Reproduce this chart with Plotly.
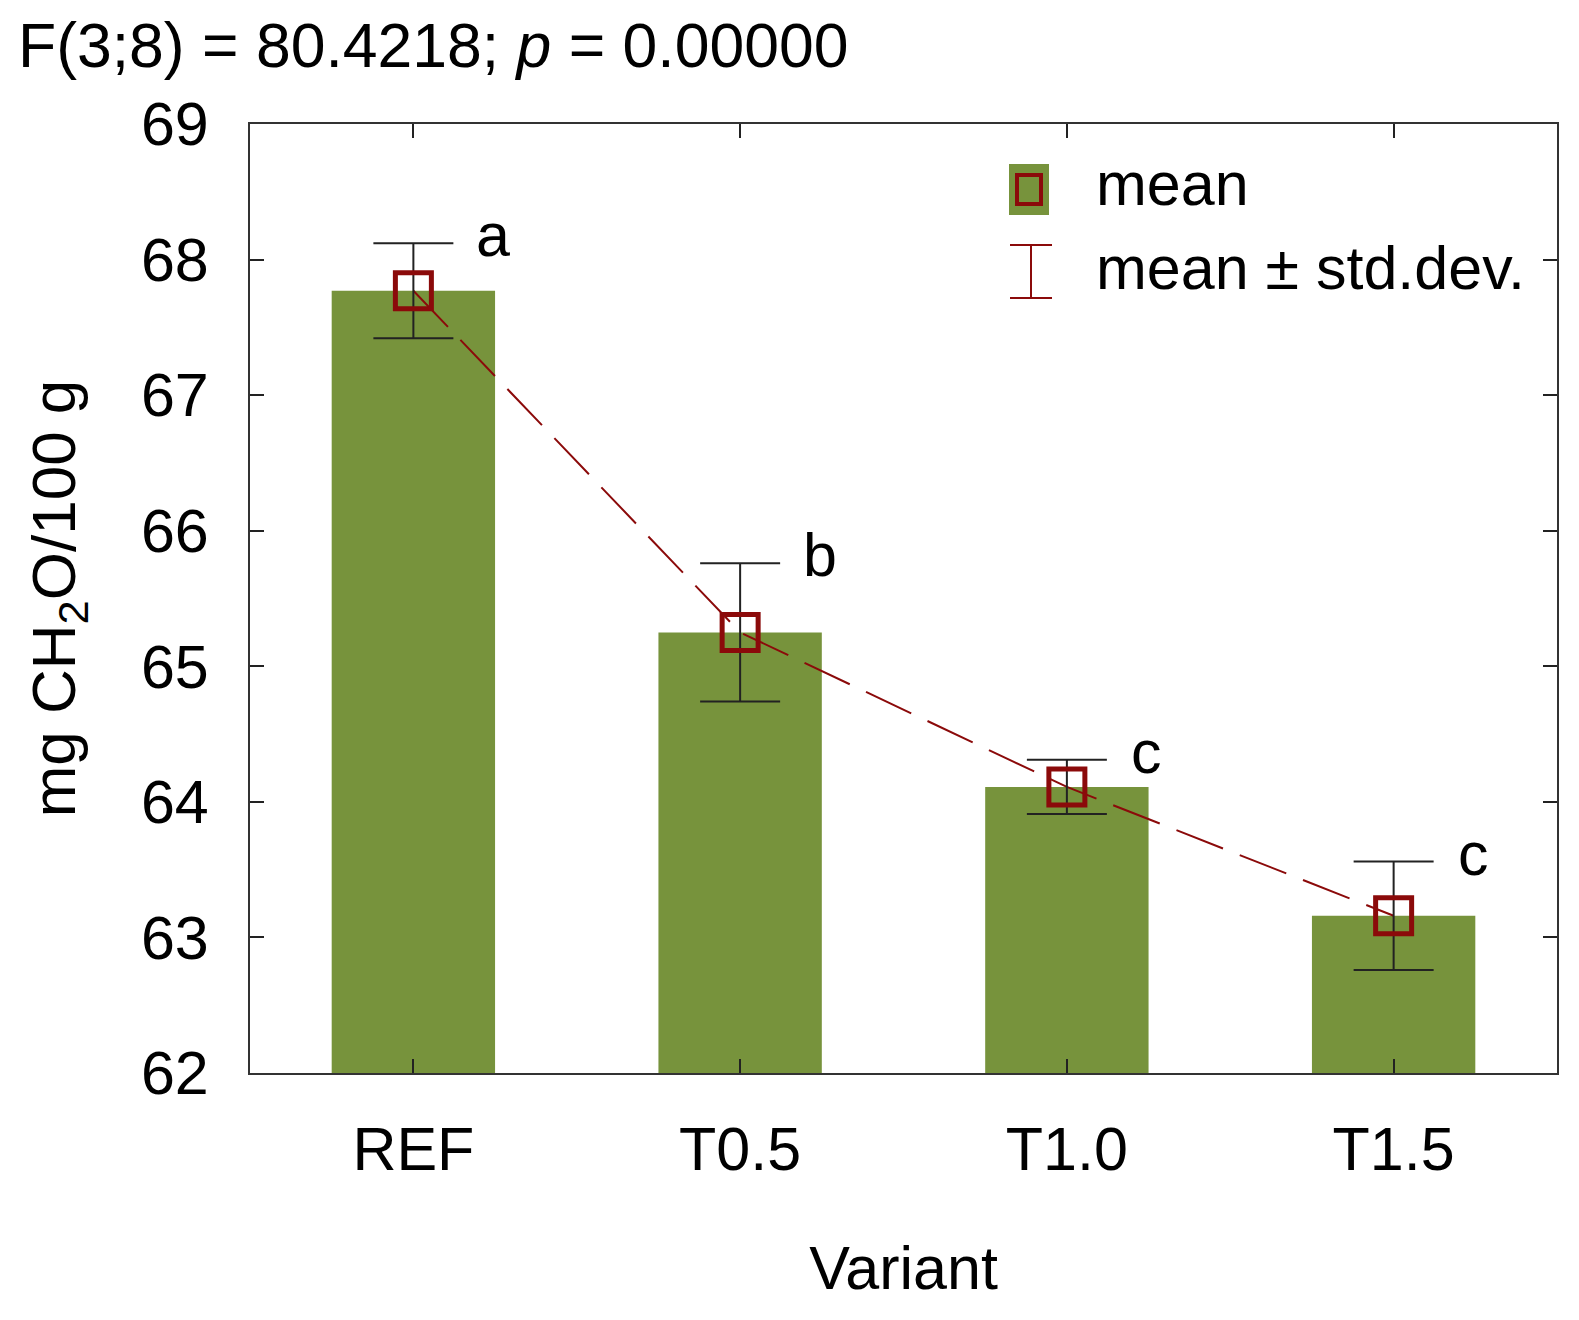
import plotly.graph_objects as go

#%% data

variants = ["REF", "T0.5", "T1.0", "T1.5"]
means = [67.77, 65.25, 64.11, 63.16]
sds = [0.35, 0.51, 0.20, 0.40]
groups = ["a", "b", "c", "c"]
yticks = [62, 63, 64, 65, 66, 67, 68, 69]

#%% figure

FONT = "Liberation Sans, Arial, sans-serif"
FS = 61
GREEN = "#77933C"
RED = "#8B0A0A"
xs = list(range(len(variants)))

# page body has an 8px default margin, so everything is drawn 8px lower/righter
OFF = 8
# wanted plot area on screen, in pixels
L, R, T, B = 250, 1557, 124, 1073

fig = go.Figure()

fig.add_trace(go.Bar(x=xs, y=[m - 62 for m in means], base=62, width=0.5,
                     marker=dict(color=GREEN, line=dict(width=0)),
                     showlegend=False))

fig.add_trace(go.Scatter(x=xs, y=means, mode="lines",
                         line=dict(color=RED, width=2, dash="50px,18px"),
                         showlegend=False))

fig.add_trace(go.Scatter(x=xs, y=means, mode="markers",
                         marker=dict(symbol="square-open", size=36, color=RED,
                                     line=dict(width=5, color=RED)),
                         error_y=dict(type="data", array=sds, visible=True,
                                      color="#222222", thickness=2, width=40),
                         showlegend=False))

# group letters
for i, (m, s, g) in enumerate(zip(means, sds, groups)):
    fig.add_annotation(x=i + 0.245, y=m + s, text=g, showarrow=False,
                       xanchor="center", yanchor="middle", yshift=8,
                       font=dict(family=FONT, size=FS, color="black"))

# hand-made legend (paper coords)
def px(x):
    return (x - L) / (R - L)

def py(y):
    return (B - y) / (B - T)

fig.add_shape(type="rect", xref="paper", yref="paper",
              x0=px(1009), x1=px(1049), y0=py(215), y1=py(164),
              fillcolor=GREEN, line=dict(width=0))
fig.add_shape(type="rect", xref="paper", yref="paper",
              x0=px(1017), x1=px(1041), y0=py(204), y1=py(175),
              fillcolor="rgba(0,0,0,0)", line=dict(color=RED, width=4))
for y0, y1, x0, x1 in [(245, 245, 1010, 1052), (298, 298, 1010, 1052),
                       (245, 298, 1031, 1031)]:
    fig.add_shape(type="line", xref="paper", yref="paper",
                  x0=px(x0), x1=px(x1), y0=py(y0), y1=py(y1),
                  line=dict(color=RED, width=2))
fig.add_annotation(xref="paper", yref="paper", x=px(1094), y=py(184),
                   text="mean", showarrow=False, xanchor="left", yanchor="middle",
                   font=dict(family=FONT, size=FS, color="black"))
fig.add_annotation(xref="paper", yref="paper", x=px(1094), y=py(268),
                   text="mean ± std.dev.", showarrow=False, xanchor="left",
                   yanchor="middle",
                   font=dict(family=FONT, size=FS, color="black"))

axis_common = dict(showline=True, linecolor="#333333", linewidth=2, mirror="ticks",
                   ticks="inside", ticklen=14, tickwidth=2, tickcolor="#222222",
                   showgrid=False, zeroline=False,
                   tickfont=dict(family=FONT, size=FS, color="black"))

fig.update_xaxes(range=[-0.5, 3.5], tickmode="array", tickvals=xs,
                 ticktext=variants, ticklabelstandoff=22,
                 title=dict(text="Variant", standoff=64,
                            font=dict(family=FONT, size=FS, color="black")),
                 **axis_common)
fig.update_yaxes(range=[62, 69], tickmode="array", tickvals=yticks,
                 ticklabelstandoff=27,
                 title=dict(text="mg CH<sub>2</sub>O/100 g", standoff=45,
                            font=dict(family=FONT, size=62, color="black")),
                 **axis_common)

fig.update_layout(
    width=1579, height=1320,
    margin=dict(l=L - OFF, r=1579 - R + OFF, t=T - OFF, b=1320 - B + OFF,
                autoexpand=False),
    paper_bgcolor="white", plot_bgcolor="white",
    title=dict(text="F(3;8) = 80.4218; <i>p</i> = 0.00000",
               x=(18 - OFF) / 1579, xanchor="left", y=1 - (45 - OFF) / 1320,
               yanchor="middle",
               font=dict(family=FONT, size=62.5, color="black")),
)

fig.write_html("out.html")
